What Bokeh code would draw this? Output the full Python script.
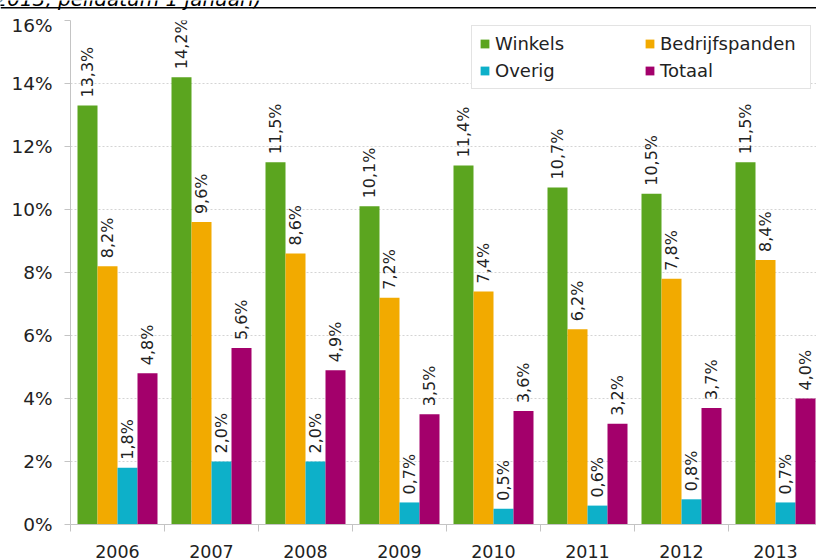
from bokeh.plotting import figure
from bokeh.models import ColumnDataSource, Range1d, FixedTicker, Legend, LegendItem
from bokeh.layouts import column
from bokeh.embed import file_html
from bokeh.resources import INLINE
from bokeh.core.properties import value
from math import pi

# ---- data ----
years = ["2006", "2007", "2008", "2009", "2010", "2011", "2012", "2013"]
winkels = [13.3, 14.2, 11.5, 10.1, 11.4, 10.7, 10.5, 11.5]
bedrijfspanden = [8.2, 9.6, 8.6, 7.2, 7.4, 6.2, 7.8, 8.4]
overig = [1.8, 2.0, 2.0, 0.7, 0.5, 0.6, 0.8, 0.7]
totaal = [4.8, 5.6, 4.9, 3.5, 3.6, 3.2, 3.7, 4.0]
series_names = ["Winkels", "Bedrijfspanden", "Overig", "Totaal"]
series_values = [winkels, bedrijfspanden, overig, totaal]
series_colors = ["#5ba51f", "#f2aa00", "#0db0c9", "#a3006b"]
y_ticks = [0, 2, 4, 6, 8, 10, 12, 14, 16]
y_tick_labels = ["0%", "2%", "4%", "6%", "8%", "10%", "12%", "14%", "16%"]
subtitle = "2013, peildatum 1 januari)"

FONT = "DejaVu Sans"
W = 816
TOP_H = 14

# ---- top strip (cropped subtitle + rule) ----
top = figure(title=None, width=W, height=TOP_H, x_range=Range1d(0, W), y_range=Range1d(0, TOP_H),
             toolbar_location=None, output_backend="svg", min_border=0,
             outline_line_color=None, x_axis_location=None, y_axis_location=None)
top.frame_align = False
top.grid.visible = False
top.line(x=[0, W], y=[TOP_H - 7.2, TOP_H - 7.2], line_color="black", line_width=1.6)
top.text(x=[-6], y=[TOP_H + 1.3], text=[subtitle], text_font=value(FONT),
         text_font_style="italic", text_font_size="20px", text_baseline="alphabetic",
         text_color="black")

# ---- main chart ----
n = len(years)
slot_px = 94.0
frame_w = W - 70
p = figure(title=None, width=W, height=560 - TOP_H, x_range=Range1d(0, frame_w / slot_px), y_range=Range1d(0, 16),
           toolbar_location=None, output_backend="svg",
           min_border_left=70, min_border_right=0, min_border_top=20 - TOP_H, min_border_bottom=36,
           outline_line_color=None)
p.frame_align = False
p.background_fill_color = "white"
p.border_fill_color = "white"

bw = 20.0 / slot_px
renderers = []
for k, (name, vals, color) in enumerate(zip(series_names, series_values, series_colors)):
    xs = [i + 0.5 + (k - 1.5) * bw for i in range(n)]
    src = ColumnDataSource(dict(
        x=xs, top=vals,
        lbl=[("%.1f" % v).replace(".", ",") + "%" for v in vals]))
    r = p.vbar(x="x", top="top", width=bw, bottom=0, source=src,
               fill_color=color, line_color=None)
    renderers.append(r)
    p.text(x="x", y="top", text="lbl", source=src, angle=pi / 2,
           text_align="left", text_baseline="middle", y_offset=-8,
           text_font=value(FONT), text_font_size="16px", text_color="#222222")

# y axis
p.yaxis.ticker = FixedTicker(ticks=y_ticks)
p.yaxis.major_label_overrides = {t: l for t, l in zip(y_ticks, y_tick_labels)}
p.yaxis.axis_line_color = "#c4c4c4"
p.yaxis.major_tick_line_color = "#c4c4c4"
p.yaxis.major_tick_out = 6
p.yaxis.major_tick_in = 0
p.yaxis.minor_tick_line_color = None
p.yaxis.major_label_standoff = 12
p.yaxis.major_label_text_font = FONT
p.yaxis.major_label_text_font_size = "18.5px"
p.yaxis.major_label_text_color = "#222222"

# x axis
centers = [i + 0.5 for i in range(n)]
bounds = [float(i) for i in range(n + 1)]
p.xaxis.ticker = FixedTicker(ticks=centers, minor_ticks=bounds)
p.xaxis.major_label_overrides = {c: y for c, y in zip(centers, years)}
p.xaxis.axis_line_color = "#c4c4c4"
p.xaxis.major_tick_line_color = None
p.xaxis.major_tick_out = 0
p.xaxis.major_tick_in = 0
p.xaxis.minor_tick_line_color = "#c4c4c4"
p.xaxis.minor_tick_out = 7
p.xaxis.minor_tick_in = 0
p.xaxis.major_label_standoff = 13
p.xaxis.major_label_text_font = FONT
p.xaxis.major_label_text_font_size = "17.5px"
p.xaxis.major_label_text_color = "#222222"

p.xgrid.grid_line_color = None
p.ygrid.grid_line_color = "#d4d4d4"
p.ygrid.grid_line_dash = "2 2"

# legend: column-first fill, so order gives rows (Winkels, Bedrijfspanden) / (Overig, Totaal)
legend_order = [0, 2, 1, 3]
legend = Legend(items=[LegendItem(label=series_names[i], renderers=[renderers[i]]) for i in legend_order],
                location="top_right", ncols=2, margin=5, padding=7, spacing=6,
                label_standoff=5, glyph_width=11, glyph_height=11, label_width=143,
                label_text_font=FONT, label_text_font_size="18px",
                label_text_color="#222222",
                border_line_color="#c8c8c8", border_line_width=1.5,
                background_fill_color="white", background_fill_alpha=1.0)
p.add_layout(legend)

layout = column(top, p, spacing=0)
open("out.html", "w").write(file_html(layout, INLINE))
